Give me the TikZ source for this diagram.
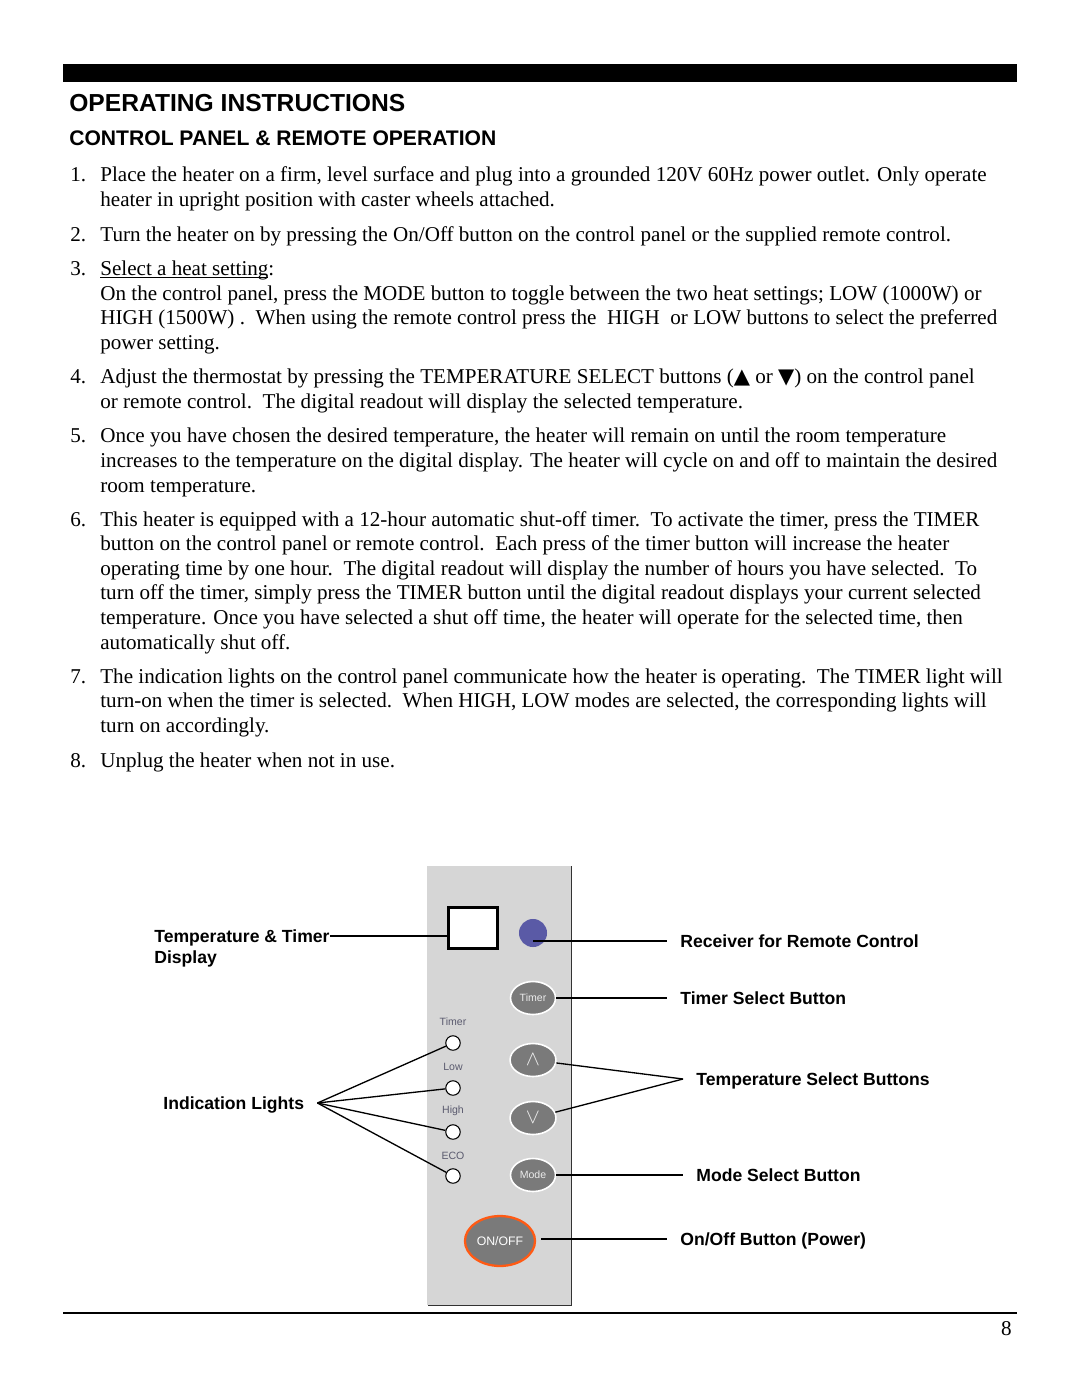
\documentclass[tikz,border=0pt]{standalone}
\usepackage{fontspec}
\setmainfont{Liberation Serif}
\setsansfont{Liberation Sans}
\newfontfamily\symbfont{DejaVu Sans}
\usetikzlibrary{shapes.geometric}
\definecolor{panelgray}{HTML}{D6D6D6}
\definecolor{btngray}{HTML}{7A7A7A}
\definecolor{rcvblue}{HTML}{5A5AA6}
\definecolor{pwrorange}{HTML}{FF5A14}
\definecolor{lampgray}{HTML}{5A5A6E}
\newcommand{\triup}{{\symbfont\fontsize{12}{14}\selectfont ▲}}
\newcommand{\tridown}{{\symbfont\fontsize{12}{14}\selectfont ▼}}
\tikzset{
  txt/.style={anchor=base west, inner sep=0pt, font=\fontsize{12}{14}\selectfont},
  lbl/.style={anchor=west, inner xsep=7.4bp, inner ysep=0pt, text height=7.2bp, text depth=0pt,
    font=\sffamily\bfseries\fontsize{10}{12}\selectfont},
  btn/.style={ellipse, fill=btngray, draw=white, line width=0.9bp, minimum width=25.5bp,
    minimum height=18.7bp, inner sep=0pt, text=white!85!gray, font=\sffamily\fontsize{6}{7}\selectfont},
  lamp/.style={circle, draw=black, fill=white, line width=0.6bp, minimum size=8.2bp, inner sep=0pt},
  lamptxt/.style={inner sep=0pt, text=lampgray, font=\sffamily\fontsize{6}{7}\selectfont}
}
\begin{document}
\begin{tikzpicture}[x=0.5667bp, y=-0.5667bp]
\fill[white] (0,0) rectangle (1080,1397);
\useasboundingbox (0,0) rectangle (1080,1397);
\fill (63,64) rectangle (1017,82);
\draw[line width=1.1bp] (63,1313) -- (1017,1313);
\node[anchor=base west, inner sep=0pt, font=\sffamily\bfseries\fontsize{14}{16}\selectfont] (H1) at (69,111) {OPERATING INSTRUCTIONS};
\node[anchor=base west, inner sep=0pt, font=\sffamily\bfseries\fontsize{12}{14}\selectfont] (H2) at (69,145) {CONTROL PANEL \& REMOTE OPERATION};
\begin{scope}[every node/.style=txt]
\node (n1) at (70,181) {1.};
\node (t1a) at (100,181) {Place the heater on a firm, level surface and plug into a grounded 120V 60Hz power outlet. Only operate};
\node (t1b) at (100,206) {heater in upright position with caster wheels attached.};
\node (n2) at (70,241) {2.};
\node (t2a) at (100,241) {Turn the heater on by pressing the On/Off button on the control panel or the supplied remote control.};
\node (n3) at (70,275) {3.};
\node (t3a) at (100,275) {\underline{\smash{Select a heat setting}}:};
\node (t3b) at (100,300) {On the control panel, press the MODE button to toggle between the two heat settings; LOW (1000W) or};
\node (t3c) at (100,324) {HIGH (1500W) .\ \ When using the remote control press the\ \ HIGH\ \ or LOW buttons to select the preferred};
\node (t3d) at (100,349) {power setting.};
\node (n4) at (70,383) {4.};
\node (t4a) at (100,383) {Adjust the thermostat by pressing the TEMPERATURE SELECT buttons (\triup{} or \tridown) on the control panel};
\node (t4b) at (100,408) {or remote control.\ \ The digital readout will display the selected temperature.};
\node (n5) at (70,442) {5.};
\node (t5a) at (100,442) {Once you have chosen the desired temperature, the heater will remain on until the room temperature};
\node (t5b) at (100,467) {increases to the temperature on the digital display. The heater will cycle on and off to maintain the desired};
\node (t5c) at (100,492) {room temperature.};
\node (n6) at (70,526) {6.};
\node (t6a) at (100,526) {This heater is equipped with a 12-hour automatic shut-off timer.\ \ To activate the timer, press the TIMER};
\node (t6b) at (100,550) {button on the control panel or remote control.\ \ Each press of the timer button will increase the heater};
\node (t6c) at (100,575) {operating time by one hour.\ \ The digital readout will display the number of hours you have selected.\ \ To};
\node (t6d) at (100,599) {turn off the timer, simply press the TIMER button until the digital readout displays your current selected};
\node (t6e) at (100,624) {temperature. Once you have selected a shut off time, the heater will operate for the selected time, then};
\node (t6f) at (100,649) {automatically shut off.};
\node (n7) at (70,683) {7.};
\node (t7a) at (100,683) {The indication lights on the control panel communicate how the heater is operating.\ \ The TIMER light will};
\node (t7b) at (100,707) {turn-on when the timer is selected.\ \ When HIGH, LOW modes are selected, the corresponding lights will};
\node (t7c) at (100,732) {turn on accordingly.};
\node (n8) at (70,767) {8.};
\node (t8a) at (100,767) {Unplug the heater when not in use.};
\end{scope}
\node[anchor=base east, inner sep=0pt, font=\fontsize{12}{14}\selectfont] (pg) at (1012,1335) {8};
\fill[panelgray] (427,866) rectangle (571,1305);
\draw[line width=0.8bp, black!80] (571.5,866) -- (571.5,1305.5) -- (427.5,1305.5);
\node[draw, fill=white, line width=1.7bp, minimum width=28.3bp, minimum height=23.2bp, inner sep=0pt] (Disp) at (473,928) {};
\node[circle, fill=rcvblue, minimum size=15.9bp, inner sep=0pt] (Recv) at (533,933) {};
\begin{scope}[every node/.style=btn]
\node (Tm) at (533,998) {Timer};
\node[minimum width=26bp] (Up) at (533,1060) {\fontsize{12}{12}\selectfont$\wedge$};
\node[minimum width=26bp] (Dn) at (533,1118) {\fontsize{12}{12}\selectfont$\vee$};
\node (Md) at (533,1175) {Mode};
\node[draw=pwrorange, line width=1.3bp, minimum width=39.7bp, minimum height=28.3bp, text=white, font=\sffamily\fontsize{7}{8}\selectfont] (Pw) at (500,1241) {ON/OFF};
\end{scope}
\begin{scope}[every node/.style=lamptxt]
\node (TmT) at (453,1022) {Timer};
\node (LoT) at (453,1067) {Low};
\node (HiT) at (453,1111) {High};
\node (EcT) at (453,1156) {ECO};
\end{scope}
\begin{scope}[every node/.style=lamp]
\node (LTm) at (453,1043) {};
\node (LLo) at (453,1088) {};
\node (LHi) at (453,1132) {};
\node (LEc) at (453,1176) {};
\end{scope}
\begin{scope}[every node/.style=lbl]
\node[inner xsep=0pt] (TTa) at (154,936) {Temperature \& Timer};
\node[inner xsep=0pt] (TTb) at (154,957) {Display};
\node (IL) at (150,1103) {Indication Lights};
\node (RcvL) at (667,941) {Receiver for Remote Control};
\node (TmL) at (667,998) {Timer Select Button};
\node (TsL) at (683,1079) {Temperature Select Buttons};
\node (MdL) at (683,1175) {Mode Select Button};
\node (PwL) at (667,1239) {On/Off Button (Power)};
\end{scope}
\begin{scope}[every edge/.style={draw, line width=0.75bp}]
\path (TTa.east) edge (TTa.east -| Disp.west);
\path (IL.east) edge (LTm) edge (LLo) edge (LHi) edge (LEc);
\path (Recv.center |- RcvL.west) edge (RcvL.west);
\path (Tm) edge (TmL.west);
\path (TsL.west) edge (Up) edge (Dn);
\path (Md) edge (MdL.west);
\path (Pw.east |- PwL.west) edge[shorten <=3bp] (PwL.west);
\end{scope}
\end{tikzpicture}
\end{document}
